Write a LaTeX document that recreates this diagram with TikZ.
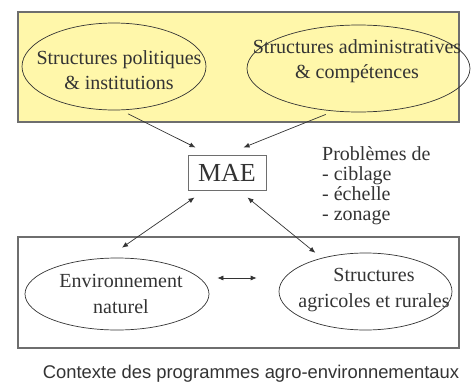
\documentclass[tikz,border=0pt]{standalone}
\usepackage{fontspec}
\setmainfont{Liberation Serif}
\newfontfamily\captionfont{Liberation Sans}
\usetikzlibrary{shapes.geometric,arrows.meta}
\definecolor{paleyellow}{HTML}{FFF7AA}
\definecolor{inkgray}{HTML}{333333}
\definecolor{framegray}{HTML}{6E6E6E}

\begin{document}
\begin{tikzpicture}[x=1pt,y=-1pt,
  frame/.style={rectangle,draw=framegray,line width=1.2pt,inner sep=0pt},
  oval/.style={ellipse,draw=inkgray,line width=0.7pt,inner sep=0pt},
  ovaltext/.style={text=inkgray,align=center,inner sep=0pt,font=\fontsize{20}{25.5}\selectfont},
  link/.style={draw=inkgray,line width=0.7pt,-{Latex[length=6pt,width=5pt]}},
  bilink/.style={link,{Latex[length=6pt,width=5pt]}-{Latex[length=6pt,width=5pt]}}]
\useasboundingbox (0,0) rectangle (475,389);
% the two frames
\node[frame,fill=paleyellow,minimum width=441pt,minimum height=110pt] (upper) at (238.5,67) {};
\node[frame,minimum width=441pt,minimum height=111pt] (lower) at (238.5,292.5) {};
% upper level
\node[oval,minimum width=184pt,minimum height=87pt] (pol) at (114,66.5) {};
\node[ovaltext] (poltxt) at (119,70) {Structures politiques\\\& institutions};
\node[oval,minimum width=223pt,minimum height=87pt] (adm) at (358.5,68.5) {};
\node[ovaltext] (admtxt) at (357,61) {Structures administratives\\\& compétences};
% centre
\node[frame,line width=1pt,minimum width=78pt,minimum height=35pt,text=inkgray,
  font=\fontsize{26}{30}\selectfont] (mae) at (227,172.5) {MAE};
\node[anchor=north west,align=left,inner sep=0pt,text=inkgray,
  font=\fontsize{20}{20}\selectfont] (pb) at (322,146) {Problèmes de\\- ciblage\\- échelle\\- zonage};
% lower level
\node[oval,minimum width=184pt,minimum height=72pt] (env) at (117,294) {};
\node[ovaltext] (envtxt) at (121,294) {Environnement\\naturel};
\node[oval,minimum width=173pt,minimum height=77pt] (agr) at (365.5,291.5) {};
\node[ovaltext] (agrtxt) at (374,290) {Structures\\agricoles et rurales};
% links
\draw[link] ([yshift=-4pt]pol.-72) -- ([shift={(8pt,7pt)}]mae.north west);
\draw[link] ([yshift=-4pt]adm.-128) -- ([shift={(-23pt,7pt)}]mae.north east);
\draw[bilink] ([shift={(7pt,-7pt)}]mae.south west) -- ([shift={(5pt,10pt)}]env.north);
\draw[bilink] ([shift={(-19pt,-7pt)}]mae.south east) -- ([shift={(-7pt,5pt)}]agr.142);
\draw[bilink] ([shift={(8pt,16pt)}]env.east) -- ([shift={(-22pt,13.5pt)}]agr.west);
% caption
\node[anchor=base,text=inkgray,font=\captionfont\fontsize{18.4}{22}\selectfont] (caption) at (251,378)
  {Contexte des programmes agro-environnementaux};
\end{tikzpicture}
\end{document}
